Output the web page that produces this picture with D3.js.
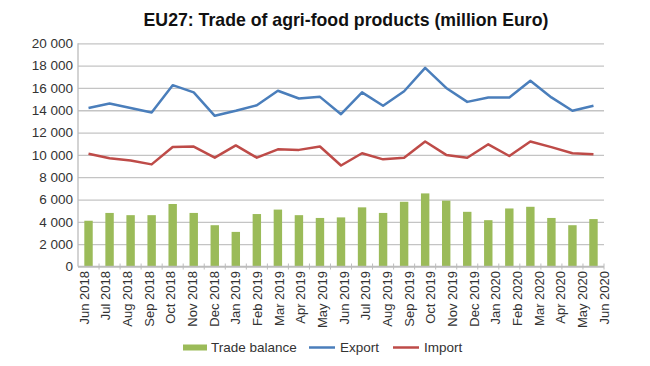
<!DOCTYPE html>
<html>
<head>
<meta charset="utf-8">
<script src="https://cdn.jsdelivr.net/npm/d3@7/dist/d3.min.js"></script>
<style>
  html, body { margin: 0; padding: 0; background: #fff; }
  svg { display: block; font-family: "Liberation Sans", Arial, sans-serif; }
</style>
</head>
<body>
<svg id="chart" width="650" height="366"></svg>
<script>
const months = ["Jun 2018","Jul 2018","Aug 2018","Sep 2018","Oct 2018","Nov 2018","Dec 2018",
  "Jan 2019","Feb 2019","Mar 2019","Apr 2019","May 2019","Jun 2019","Jul 2019","Aug 2019",
  "Sep 2019","Oct 2019","Nov 2019","Dec 2019","Jan 2020","Feb 2020","Mar 2020","Apr 2020",
  "May 2020","Jun 2020"];
const tradeBalance = [4100,4800,4600,4600,5600,4800,3700,3100,4700,5100,4600,4350,4400,
  5300,4800,5800,6550,5900,4900,4150,5200,5350,4350,3700,4250];
const exportVals = [14200,14600,14200,13800,16250,15600,13500,13950,14450,15750,15050,15200,13650,
  15600,14400,15700,17800,16000,14750,15150,15150,16650,15150,13950,14400];
const importVals = [10100,9700,9500,9150,10700,10750,9750,10850,9750,10500,10450,10750,9050,
  10150,9600,9750,11200,10000,9750,10950,9900,11200,10700,10150,10050];
const yTicks = [0,2000,4000,6000,8000,10000,12000,14000,16000,18000,20000];
const title = "EU27: Trade of agri-food products (million Euro)";
const legendItems = [
  {label: "Trade balance", type: "bar", color: "#9bbb59"},
  {label: "Export", type: "line", color: "#4a7ebb"},
  {label: "Import", type: "line", color: "#be4b48"}
];

const svg = d3.select("#chart");
const L = 78, R = 604, T = 43.3, B = 266.5;

const x = d3.scaleBand().domain(months).range([L, R]).paddingInner(0.6).paddingOuter(0.3);
const xLab = d3.scalePoint().domain(months).range([84, 604]);
const y = d3.scaleLinear().domain([0, 20000]).range([B, T]);
const fmt = d3.formatLocale({decimal: ".", thousands: " ", grouping: [3], currency: ["", ""]}).format(",d");

// Title
svg.append("text").attr("x", 346).attr("y", 26).attr("text-anchor", "middle")
  .attr("font-weight", "bold").attr("font-size", "17.7px").attr("fill", "#111").text(title);

// Gridlines + y axis labels
const yAxis = d3.axisLeft(y).tickValues(yTicks).tickSize(-(R - L)).tickFormat(fmt).tickPadding(5);
const gy = svg.append("g").attr("transform", `translate(${L},0)`).call(yAxis);
gy.select(".domain").remove();
gy.selectAll(".tick line").attr("stroke", "#c4c4c4").attr("stroke-width", 1.3);
gy.selectAll(".tick text").attr("font-size", "13.5px").attr("fill", "#333")
  .attr("font-family", "'Liberation Sans', Arial, sans-serif");

// y axis line
svg.append("line").attr("x1", L).attr("x2", L).attr("y1", T).attr("y2", B)
  .attr("stroke", "#bcbcbc").attr("stroke-width", 1.3);

// Bars
svg.append("g").selectAll("rect").data(months).join("rect")
  .attr("x", d => x(d))
  .attr("width", x.bandwidth())
  .attr("y", (d, i) => y(tradeBalance[i]))
  .attr("height", (d, i) => y(0) - y(tradeBalance[i]))
  .attr("fill", "#9bbb59");

// X axis line and ticks
svg.append("line").attr("x1", L).attr("x2", R).attr("y1", B).attr("y2", B)
  .attr("stroke", "#bcbcbc").attr("stroke-width", 1.3);
const step = x.step();
const boundaries = months.map((d, i) => x(d) - x.paddingInner() * step / 2).slice(1).concat([R]);
svg.append("g").selectAll("line").data(boundaries).join("line")
  .attr("x1", d => d).attr("x2", d => d).attr("y1", B - 3).attr("y2", B + 3)
  .attr("stroke", "#bcbcbc").attr("stroke-width", 1);

// X labels
svg.append("g").selectAll("text").data(months).join("text")
  .attr("transform", d => `translate(${xLab(d)},271) rotate(-90)`)
  .attr("dy", "0.35em").attr("text-anchor", "end")
  .attr("font-size", "13px").attr("fill", "#333").text(d => d);

// Lines
const cx = d => x(d) + x.bandwidth() / 2;
const lineGen = vals => d3.line().x(d => cx(d)).y((d, i) => y(vals[i]))(months);
svg.append("path").attr("d", lineGen(exportVals)).attr("fill", "none")
  .attr("stroke", "#4a7ebb").attr("stroke-width", 2.5).attr("stroke-linejoin", "round");
svg.append("path").attr("d", lineGen(importVals)).attr("fill", "none")
  .attr("stroke", "#be4b48").attr("stroke-width", 2.5).attr("stroke-linejoin", "round");

// Legend
const legendX = [183, 309, 393];
const lg = svg.append("g");
legendItems.forEach((it, i) => {
  const g = lg.append("g").attr("transform", `translate(${legendX[i]},347.5)`);
  if (it.type === "bar") {
    g.append("rect").attr("x", 0).attr("y", -3).attr("width", 24).attr("height", 6).attr("fill", it.color);
    g.append("text").attr("x", 28).attr("dy", "0.35em").attr("font-size", "13.5px").attr("fill", "#333").text(it.label);
  } else {
    g.append("line").attr("x1", 0).attr("x2", 26).attr("stroke", it.color).attr("stroke-width", 2.5);
    g.append("text").attr("x", 31).attr("dy", "0.35em").attr("font-size", "13.5px").attr("fill", "#333").text(it.label);
  }
});
</script>
</body>
</html>
